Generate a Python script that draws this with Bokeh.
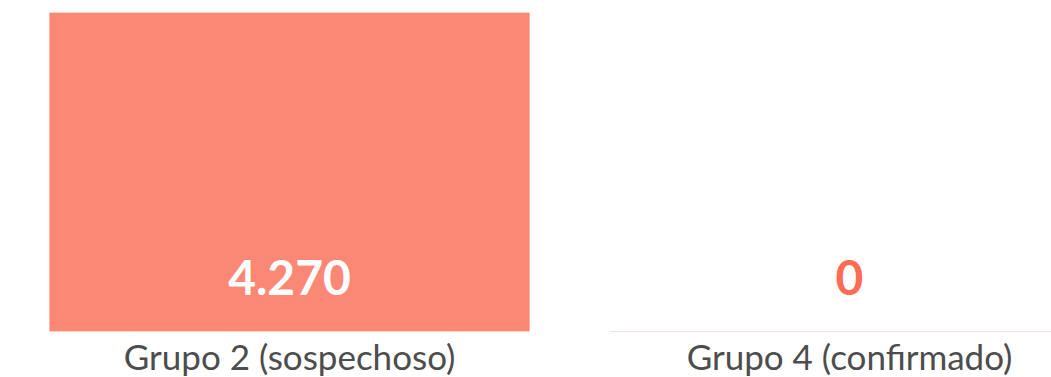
from bokeh.plotting import figure
from bokeh.models import ColumnDataSource, Range1d, FixedTicker
from bokeh.core.properties import value
from bokeh.embed import file_html
from bokeh.resources import INLINE

categories = ["Grupo 2 (sospechoso)", "Grupo 4 (confirmado)"]
values = [4270, 0]

BAR = "#FB8875"
ZERO_TXT = "#FF6B55"

idx = list(range(len(categories)))
labels = [f"{v:,}".replace(",", ".") for v in values]
label_colors = ["#FFFFFF" if v > 0 else ZERO_TXT for v in values]

src = ColumnDataSource(dict(x=idx, top=values, label=labels, lc=label_colors,
                            base=[0] * len(values)))

p = figure(frame_width=1051, frame_height=319, output_backend="svg",
           toolbar_location=None, min_border_top=12, min_border_left=0,
           min_border_right=0, min_border_bottom=0,
           x_range=Range1d(-0.5161, 1.3607), y_range=Range1d(0, 4270))
p.background_fill_color = "white"
p.border_fill_color = "white"
p.outline_line_color = None
p.grid.visible = False
p.yaxis.visible = False

p.vbar(x="x", top="top", bottom=0, width=0.857, source=src,
       fill_color=BAR, line_color=BAR, line_alpha=0.3, line_width=1)

p.text(x="x", y="base", text="label", source=src, text_color="lc",
       text_font=value("Lato"), text_font_style="bold", text_font_size="48px",
       text_align="center", text_baseline="alphabetic", y_offset=-54)

xa = p.xaxis[0]
xa.ticker = FixedTicker(ticks=idx)
xa.major_label_overrides = {i: c for i, c in zip(idx, categories)}
xa.axis_line_color = None
xa.major_tick_line_color = None
xa.minor_tick_line_color = None
xa.major_label_text_font = "Lato"
xa.major_label_text_font_size = "35px"
xa.major_label_text_color = "#4D4D4D"
xa.major_label_standoff = -3

open("out.html", "w").write(file_html(p, INLINE))
